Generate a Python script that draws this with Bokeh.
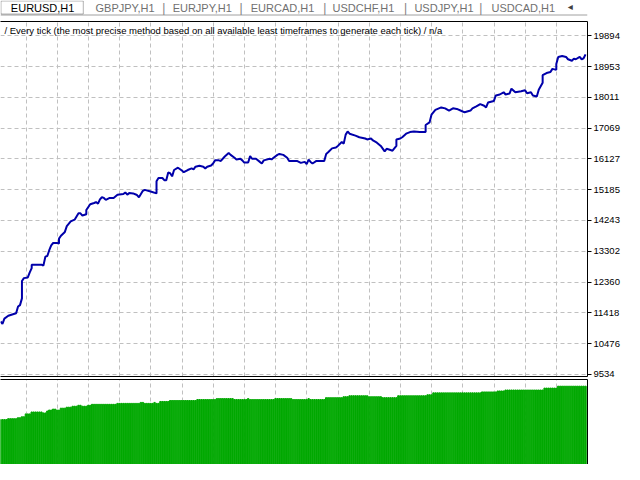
#Script to redraw an MT4 strategy tester graph (balance line + lots bars) with bokeh

##### IMPORT NECESSARY MODULES #####
from bokeh.plotting import figure
from bokeh.layouts import column
from bokeh.models import (Range1d, FixedTicker, LinearAxis, Label, Span,
                          BoxAnnotation, PrintfTickFormatter)
from bokeh.embed import file_html
from bokeh.resources import INLINE

#### DATA ####
#trade number and balance after that trade
trade = [0, 1, 2, 4, 6, 8, 9, 10, 11, 11,
         12, 14, 15, 16, 16, 21, 22, 23, 24, 25,
         26, 27, 29, 30, 30, 31, 33, 34, 36, 38,
         40, 41, 42, 44, 44, 46, 48, 49, 50, 51,
         52, 53, 54, 56, 58, 60, 63, 64, 65, 66,
         68, 70, 71, 73, 74, 77, 80, 80, 81, 83,
         84, 85, 86, 87, 88, 89, 91, 93, 94, 96,
         98, 99, 100, 102, 104, 105, 106, 108, 109, 110,
         112, 113, 115, 117, 118, 120, 121, 123, 124, 125,
         127, 128, 129, 131, 133, 134, 135, 138, 139, 140,
         142, 143, 145, 147, 148, 152, 153, 154, 156, 157,
         158, 159, 160, 162, 166, 167, 168, 170, 172, 173,
         175, 176, 177, 178, 179, 182, 184, 187, 188, 190,
         191, 193, 195, 197, 198, 200, 201, 203, 203, 205,
         206, 208, 210, 212, 215, 218, 218, 220, 221, 223,
         226, 228, 230, 232, 234, 237, 238, 241, 242, 244,
         246, 248, 249, 250, 253, 254, 256, 258, 259, 261,
         262, 264, 267, 269, 270, 272, 273, 275, 276, 278,
         278, 280, 282, 283, 285, 285, 286, 288, 290, 291,
         293, 294, 295, 297, 298, 299, 300]

balance = [11153, 11080, 11242, 11330, 11368, 11404, 11610, 11654, 11860, 12391,
           12479, 12500, 12656, 12788, 12892, 12892, 12862, 13136, 13157, 13333,
           13481, 13554, 13554, 13540, 13687, 13775, 13893, 14070, 14217, 14267,
           14462, 14462, 14394, 14432, 14562, 14739, 14777, 14806, 14756, 14886,
           14954, 14933, 14874, 14933, 14933, 15033, 15051, 15101, 15033, 15080,
           15071, 15021, 14954, 15151, 15180, 15130, 15071, 15446, 15543, 15543,
           15475, 15475, 15711, 15690, 15593, 15787, 15858, 15770, 15720, 15787,
           15837, 15808, 15888, 15917, 15888, 15837, 15888, 15926, 15985, 16082,
           16082, 16064, 16200, 16309, 16250, 16162, 16111, 16132, 16082, 16014,
           16014, 16212, 16132, 16132, 16035, 15985, 16082, 16132, 16111, 16162,
           16250, 16279, 16250, 16162, 16064, 16064, 16035, 16005, 16035, 15964,
           16103, 16035, 15985, 16064, 16064, 16279, 16330, 16448, 16477, 16524,
           16642, 16595, 16869, 16966, 16898, 16839, 16789, 16751, 16721, 16751,
           16692, 16624, 16524, 16359, 16435, 16397, 16377, 16524, 16721, 16751,
           16789, 16898, 16948, 16966, 16948, 16948, 17163, 17243, 17478, 17626,
           17702, 17673, 17605, 17673, 17655, 17576, 17555, 17605, 17673, 17732,
           17802, 17752, 17702, 17850, 17900, 18068, 18097, 18165, 18097, 18126,
           18274, 18165, 18194, 18224, 18135, 18165, 18068, 18038, 18244, 18459,
           18686, 18754, 18783, 18881, 18851, 19028, 19246, 19275, 19246, 19175,
           19128, 19196, 19175, 19246, 19175, 19205, 19323]

#lot size of every trade (lower window)
lots = [0.47, 0.47, 0.47, 0.47, 0.48, 0.48, 0.48, 0.48, 0.48, 0.49, 0.49, 0.50, 0.50, 0.53, 0.53, 0.53,
        0.55, 0.55, 0.55, 0.55, 0.55, 0.55, 0.54, 0.54, 0.56, 0.57, 0.57, 0.58, 0.58, 0.57, 0.57,
        0.59, 0.59, 0.59, 0.60, 0.60, 0.60, 0.61, 0.61, 0.61, 0.62, 0.62, 0.61, 0.61, 0.61, 0.62, 0.62,
        0.63, 0.63, 0.63, 0.63, 0.63, 0.63, 0.63, 0.63, 0.63, 0.63, 0.63, 0.63, 0.63,
        0.64, 0.64, 0.64, 0.64, 0.64, 0.64, 0.64, 0.64, 0.64, 0.64, 0.64, 0.64,
        0.65, 0.65, 0.64, 0.64, 0.64, 0.64, 0.64, 0.65, 0.64, 0.64,
        0.66, 0.66, 0.66, 0.66, 0.66,
        0.67, 0.67, 0.67, 0.67, 0.67, 0.67, 0.67, 0.67, 0.67, 0.67, 0.67, 0.67, 0.67, 0.67,
        0.68, 0.68, 0.68, 0.68, 0.68, 0.68, 0.68, 0.68, 0.68, 0.68,
        0.69, 0.69, 0.69, 0.69, 0.69, 0.69, 0.69, 0.69,
        0.69, 0.68, 0.68, 0.68, 0.68, 0.68, 0.68, 0.68, 0.69,
        0.68, 0.68, 0.68, 0.68, 0.68, 0.68, 0.68, 0.68, 0.68, 0.68, 0.68, 0.68, 0.68,
        0.69, 0.69, 0.69, 0.69, 0.69, 0.69, 0.69, 0.69, 0.69,
        0.68, 0.68, 0.68, 0.68, 0.68, 0.68, 0.68, 0.68, 0.69, 0.68, 0.68, 0.68, 0.68, 0.68, 0.68, 0.68, 0.68,
        0.70, 0.70, 0.70, 0.70, 0.70, 0.70, 0.70, 0.70, 0.70,
        0.71, 0.71, 0.71,
        0.72, 0.72, 0.72, 0.72, 0.72, 0.72, 0.72, 0.72, 0.72, 0.72,
        0.71, 0.71, 0.71, 0.71, 0.71, 0.71, 0.71,
        0.70, 0.70, 0.70, 0.70, 0.70, 0.70, 0.70, 0.70,
        0.72, 0.72, 0.72, 0.72, 0.72,
        0.72, 0.72, 0.72, 0.72, 0.72, 0.72, 0.72, 0.72, 0.72, 0.72,
        0.73, 0.73, 0.73,
        0.75, 0.75, 0.75, 0.75, 0.75, 0.75, 0.75, 0.75, 0.75, 0.75, 0.75, 0.75, 0.75,
        0.75, 0.75, 0.75, 0.75, 0.75, 0.75, 0.75, 0.75, 0.75, 0.75, 0.75, 0.75,
        0.76, 0.76, 0.76, 0.76, 0.76, 0.76, 0.76, 0.76,
        0.77, 0.77, 0.77, 0.77,
        0.78, 0.78, 0.78, 0.78, 0.78, 0.78, 0.78, 0.78, 0.78, 0.78,
        0.78, 0.78, 0.78, 0.78, 0.78, 0.78, 0.78, 0.78, 0.78, 0.78,
        0.80, 0.80, 0.80, 0.80, 0.80, 0.80, 0.80,
        0.82, 0.82, 0.82, 0.82, 0.82, 0.82, 0.82, 0.82, 0.82, 0.82, 0.82, 0.82, 0.82, 0.82, 0.82]

#right axis labels
price_ticks = [9534, 10476, 11418, 12360, 13302, 14243, 15185, 16127, 17069, 18011, 18953, 19894]

#chart tabs and header text
tabs = ["EURUSD,H1", "GBPJPY,H1", "EURJPY,H1", "EURCAD,H1", "USDCHF,H1", "USDJPY,H1", "USDCAD,H1"]
mode_text = "/ Every tick (the most precise method based on all available least timeframes to generate each tick) / n/a"

#### LAYOUT / STYLE ####
W = 624
TAB_H = 21
MAIN_H = 358
VOL_H = 85
RIGHT = 37
GRID = "#C0C0C0"
LINE_BLUE = "#0000AA"
BAR_GREEN = "#00A800"
FONT = "Liberation Sans"

tab_left = [11, 101, 183, 266, 353, 440, 522]
sep_left = [172, 254, 343, 429, 509]

x_range = Range1d(0, len(lots))
y_lo, y_hi = 9470, 20330
grid_x = [13.15 + 16 * k for k in range(18)]


def bare_axis(ax):
    #axis that only draws its line (used as chart border)
    ax.ticker = FixedTicker(ticks=[])
    ax.major_label_text_font_size = "0px"
    ax.major_tick_line_color = None
    ax.minor_tick_line_color = None
    ax.major_tick_in = 0
    ax.major_tick_out = 0
    ax.major_label_standoff = 0
    ax.axis_line_color = "black"


#### TAB BAR ####
tab_bar = figure(width=W, height=TAB_H, x_range=Range1d(0, W), y_range=Range1d(TAB_H, 0),
                 output_backend="svg", toolbar_location=None, min_border=0)
tab_bar.axis.visible = False
tab_bar.grid.visible = False
tab_bar.outline_line_color = None
tab_bar.add_layout(Span(location=14.5, dimension="width", line_color="#A0A0A0", line_width=1))
tab_bar.add_layout(BoxAnnotation(left=0.5, right=88, top=0.5, bottom=13.5, fill_color="white",
                                 fill_alpha=1, line_color="black", line_width=1))
for i, name in enumerate(tabs):
    tab_bar.add_layout(Label(x=tab_left[i], y=7, text=name, text_baseline="middle",
                             text_font=FONT, text_font_size="11px",
                             text_color="black" if i == 0 else "#707070"))
for xs in sep_left:
    tab_bar.add_layout(Label(x=xs, y=7, text="|", text_baseline="middle",
                             text_font=FONT, text_font_size="12px", text_color="#808080"))
tab_bar.add_layout(Label(x=603, y=6, text="◂", text_baseline="middle",
                         text_font="DejaVu Sans", text_font_size="10px", text_color="#404040"))

#### BALANCE WINDOW ####
p = figure(width=W, height=MAIN_H, x_range=x_range, y_range=Range1d(y_lo, y_hi),
           y_axis_location="right", output_backend="svg", toolbar_location=None,
           min_border_left=0, min_border_right=RIGHT, min_border_top=0, min_border_bottom=3)
p.outline_line_color = None
bare_axis(p.xaxis[0])
top_axis = LinearAxis()
bare_axis(top_axis)
p.add_layout(top_axis, "above")

p.yaxis.ticker = FixedTicker(ticks=price_ticks)
p.yaxis.formatter = PrintfTickFormatter(format="%d")
p.yaxis.axis_line_color = "black"
p.yaxis.major_tick_line_color = "black"
p.yaxis.major_tick_in = 0
p.yaxis.major_tick_out = 4
p.yaxis.minor_tick_line_color = None
p.yaxis.major_label_standoff = 2
p.yaxis.major_label_text_font = FONT
p.yaxis.major_label_text_font_size = "9.5px"
p.yaxis.major_label_text_color = "black"

p.xgrid.ticker = FixedTicker(ticks=grid_x)
p.grid.grid_line_color = GRID
p.grid.grid_line_dash = "4 3"

p.line(trade, balance, line_color=LINE_BLUE, line_width=2)

title_y = y_hi - 0.026 * (y_hi - y_lo)
p.add_layout(Label(x=4, y=title_y, x_units="screen", text=mode_text, text_baseline="middle",
                   text_font=FONT, text_font_size="9.5px", text_color="black"))

#### LOTS WINDOW ####
v = figure(width=W, height=VOL_H, x_range=x_range, y_range=Range1d(0, 0.89),
           y_axis_location="right", output_backend="svg", toolbar_location=None,
           min_border_left=0, min_border_right=RIGHT, min_border_top=0, min_border_bottom=0)
v.outline_line_color = None
v.xaxis.visible = False
bare_axis(v.yaxis[0])
v_top = LinearAxis()
bare_axis(v_top)
v.add_layout(v_top, "above")
v.ygrid.visible = False
v.xgrid.ticker = FixedTicker(ticks=grid_x)
v.xgrid.grid_line_color = GRID
v.xgrid.grid_line_dash = "4 3"

v.vbar(x=list(range(len(lots))), top=lots, width=0.68, color=BAR_GREEN)

#### WRITE PAGE ####
page = column(tab_bar, p, v)
open("out.html", "w").write(file_html(page, INLINE))
